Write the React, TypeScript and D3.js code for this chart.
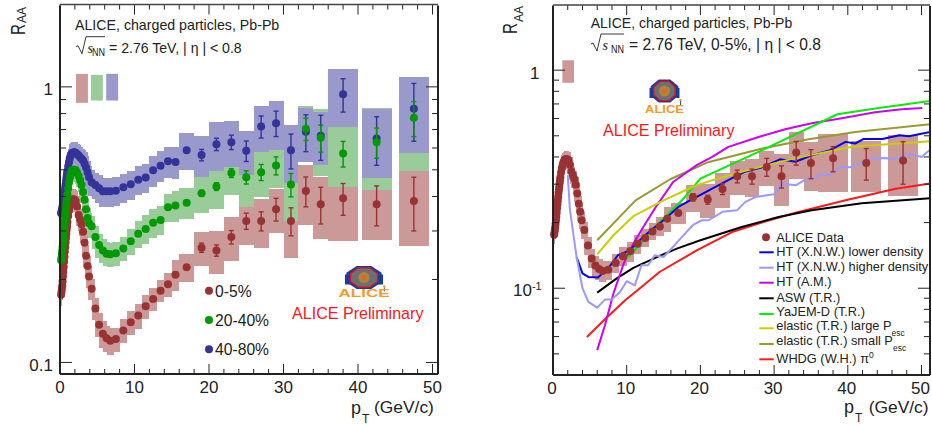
import React from "react";
import * as d3 from "d3";

const pT = [0.15,0.2,0.25,0.3,0.35,0.4,0.45,0.5,0.55,0.6,0.65,0.7,0.75,0.8,0.85,0.9,0.95,1.0,1.1,1.2,1.3,1.4,1.5,1.6,1.7,1.8,1.9,2.0,2.1,2.3,2.5,2.7,2.9,3.1,3.3,3.5,3.7,3.9,4.25,4.75,5.25,5.75,6.25,6.75,7.5,8.5,9.5,10.5,11.5,12.5,13.5,14.5,15.5,17,19,21,23,25,27,29,31,33,35,38,42.5,47.5];
const binHalf = [0.1,0.1,0.1,0.1,0.1,0.1,0.1,0.1,0.1,0.1,0.1,0.1,0.1,0.1,0.1,0.1,0.1,0.1,0.25,0.25,0.25,0.25,0.25,0.25,0.25,0.25,0.25,0.25,0.35,0.35,0.35,0.35,0.4,0.4,0.4,0.4,0.4,0.4,0.5,0.5,0.5,0.5,0.5,0.5,0.5,0.5,0.5,0.5,0.5,0.5,0.5,0.5,0.5,1,1,1,1,1,1,1,1,1,1,2,2,2];

const central = [0.176,0.18,0.185,0.19,0.197,0.205,0.213,0.222,0.232,0.242,0.252,0.262,0.273,0.283,0.293,0.303,0.313,0.323,0.34,0.355,0.367,0.376,0.383,0.388,0.39,0.39,0.39,0.388,0.385,0.368,0.343,0.33,0.317,0.298,0.272,0.244,0.224,0.205,0.185,0.157,0.137,0.127,0.1225,0.12,0.1217,0.1305,0.14,0.148,0.16,0.17,0.182,0.192,0.208,0.2215,0.261,0.255,0.285,0.326,0.326,0.36,0.326,0.419,0.375,0.394,0.375,0.385];
const midCentral = [0.235,0.24,0.247,0.255,0.263,0.272,0.282,0.292,0.303,0.315,0.327,0.338,0.35,0.362,0.373,0.385,0.396,0.407,0.428,0.449,0.466,0.48,0.49,0.497,0.5,0.5,0.5,0.5,0.498,0.488,0.475,0.458,0.44,0.415,0.389,0.36,0.334,0.32,0.312,0.285,0.267,0.255,0.248,0.247,0.249,0.259,0.275,0.293,0.305,0.321,0.329,0.366,0.371,0.38,0.411,0.435,0.487,0.47,0.49,0.518,0.442,0.704,0.653,0.573,0.63,0.772];
const peripheral = [0.348,0.352,0.357,0.362,0.368,0.375,0.383,0.391,0.4,0.41,0.42,0.431,0.441,0.452,0.463,0.474,0.485,0.495,0.515,0.533,0.548,0.56,0.568,0.574,0.577,0.578,0.578,0.578,0.577,0.57,0.563,0.555,0.548,0.54,0.526,0.51,0.49,0.47,0.451,0.44,0.429,0.418,0.418,0.418,0.42,0.432,0.443,0.46,0.469,0.498,0.517,0.537,0.534,0.589,0.566,0.619,0.63,0.586,0.718,0.738,0.589,0.687,0.665,0.94,0.649,0.832];

const sysCentral = [0.09,0.09,0.09,0.09,0.09,0.09,0.09,0.09,0.09,0.09,0.09,0.09,0.09,0.09,0.09,0.09,0.09,0.09,0.09,0.09,0.09,0.09,0.09,0.09,0.09,0.09,0.09,0.09,0.09,0.09,0.09,0.09,0.09,0.09,0.09,0.09,0.09,0.09,0.09,0.095,0.1,0.11,0.11,0.11,0.1,0.1,0.1,0.105,0.1,0.095,0.09,0.1,0.13,0.115,0.14,0.18,0.18,0.18,0.2,0.184,0.268,0.246,0.254,0.3,0.26,0.31];
const sysMid = [0.09,0.09,0.09,0.09,0.09,0.09,0.09,0.09,0.09,0.09,0.09,0.09,0.09,0.09,0.09,0.09,0.09,0.09,0.09,0.09,0.09,0.09,0.09,0.09,0.09,0.09,0.09,0.09,0.09,0.09,0.09,0.09,0.09,0.09,0.09,0.09,0.09,0.09,0.09,0.095,0.1,0.1,0.1,0.1,0.1,0.1,0.11,0.11,0.12,0.12,0.12,0.12,0.13,0.13,0.15,0.17,0.167,0.22,0.19,0.17,0.26,0.215,0.27,0.245,0.33,0.36];
const sysPeripheral = [0.09,0.09,0.09,0.09,0.09,0.09,0.09,0.09,0.09,0.09,0.09,0.09,0.09,0.09,0.09,0.09,0.09,0.09,0.09,0.09,0.09,0.09,0.09,0.09,0.09,0.09,0.09,0.09,0.09,0.09,0.09,0.09,0.09,0.09,0.1,0.1,0.1,0.1,0.11,0.11,0.12,0.12,0.12,0.12,0.12,0.12,0.12,0.12,0.12,0.13,0.13,0.13,0.13,0.15,0.17,0.2,0.19,0.18,0.19,0.2,0.237,0.22,0.22,0.237,0.28,0.31];

const errCentral = [0.01,0.012,0.016,0.022,0.026,0.034,0.038,0.052,0.057,0.052,0.062,0.085];
const errMid = [0.01,0.014,0.018,0.026,0.033,0.039,0.043,0.065,0.073,0.061,0.079,0.112];
const errPeripheral = [0.027,0.032,0.038,0.05,0.066,0.078,0.085,0.105,0.124,0.13,0.13,0.197];

const classLabels = ["0-5%", "20-40%", "40-80%"];
const normLeft = [[2.15, 3.75, 0.875, 1.115], [4.15, 5.75, 0.892, 1.105], [6.2, 7.8, 0.892, 1.115]];
const normRight = [1.27, 2.85, 0.875, 1.11];

const htLowerX = [3.2,4,4.8,6.1,7.5,8.8,10,10.9,12.25,13.6,15,17,18.6,21.6,24.3,26,28.3,30.8,32.9,35.1,37.6,39.7,41,42.1,44.7,47,48.3,51.2];
const htLowerY = [0.139,0.117,0.1127,0.112,0.1235,0.1417,0.147,0.155,0.172,0.188,0.205,0.236,0.253,0.286,0.32,0.342,0.358,0.39,0.38,0.407,0.43,0.469,0.461,0.483,0.483,0.503,0.498,0.521];
const htHigherX = [2,2.3,3.2,4,4.8,6,7.05,7.96,9.1,10,11.1,12,12.9,13.8,15,16.3,17.5,19,20.2,21.1,23,25,26.1,27.5,30,30.9,33,34.1,35.6,36.1,37.4,39,40.6,42.9,45.1,46.2,48.7,50,51.2];
const htHigherY = [0.33,0.228,0.139,0.1,0.0866,0.0815,0.0887,0.0887,0.0962,0.1077,0.103,0.1275,0.1275,0.1417,0.139,0.155,0.172,0.195,0.205,0.205,0.224,0.228,0.249,0.262,0.27,0.302,0.297,0.313,0.32,0.333,0.33,0.36,0.359,0.39,0.396,0.39,0.411,0.4,0.433];
const htAmX = [6,7.05,8.2,9.6,10.9,12.25,14.1,16.3,19.5,21.6,23.8,27.9,31.5,35.1,39.2,43.7,47.3,50.1];
const htAmY = [0.052,0.0676,0.0946,0.13,0.16,0.191,0.24,0.307,0.367,0.4,0.445,0.494,0.536,0.571,0.602,0.641,0.662,0.67];
const aswX = [6,8.6,10.9,14.1,16.8,20,25.6,30.6,35.1,41.9,51.2];
const aswY = [0.0955,0.1107,0.124,0.139,0.152,0.166,0.191,0.212,0.228,0.245,0.259];
const yajemX = [10,10.9,14.1,17.5,20,28.4,38.6,44.2,51.2];
const yajemY = [0.137,0.147,0.195,0.253,0.318,0.43,0.628,0.67,0.723];
const largeX = [6,8.2,10.9,15,19,21.6,26,32.7,40.6,51.2];
const largeY = [0.143,0.175,0.214,0.253,0.292,0.313,0.345,0.394,0.445,0.472];
const smallX = [6,11.2,15.9,20.9,28.4,34.7,41,51.2];
const smallY = [0.166,0.253,0.316,0.377,0.437,0.482,0.521,0.565];
const whdgX = [4.6,7.3,9.8,12,14.5,19.5,24.3,27.9,32.9,39.7,46.5,51.2];
const whdgY = [0.0598,0.0734,0.088,0.1014,0.119,0.149,0.181,0.198,0.222,0.253,0.286,0.302];

const curves = [
  { x: smallX, y: smallY, c: "#999933" },
  { x: whdgX, y: whdgY, c: "#ff1a1a" },
  { x: aswX, y: aswY, c: "#000000" },
  { x: htAmX, y: htAmY, c: "#cc00ee" },
  { x: yajemX, y: yajemY, c: "#00ee00" },
  { x: htLowerX, y: htLowerY, c: "#0000ee" },
  { x: htHigherX, y: htHigherY, c: "#9999ff" },
  { x: largeX, y: largeY, c: "#cccc00" },
];

const legendNames = ["HT (X.N.W.) lower density", "HT (X.N.W.) higher density", "HT (A.M.)", "ASW (T.R.)", "YaJEM-D (T.R.)"];
const legendColors = ["#0000ee", "#9999ff", "#cc00ee", "#000000", "#00ee00"];
const legendTextY = [255.7, 271, 286, 301.7, 316];
const legendLineY = [252.3, 267.7, 282.7, 298.3, 314];

const BROWN = "#993333", GREEN = "#009900", BLUE = "#333399";
const BROWN_S = "#cc9999", GREEN_S = "#99cc99", BLUE_S = "#9999cc";
const FONT = "'Liberation Sans', Arial, sans-serif";
const TXT = "#222";

type Sc = d3.ScaleContinuousNumeric<number, number>;

function Boxes({ x, y, r, sys, fill, clip }: { x: Sc; y: Sc; r: number[]; sys: number[]; fill: string; clip: string }) {
  return (
    <g clipPath={`url(#${clip})`} shapeRendering="crispEdges">
      {pT.map((p, i) => (
        <rect key={i} x={x(p - binHalf[i])} width={x(p + binHalf[i]) - x(p - binHalf[i])} y={y(r[i] * (1 + sys[i]))} height={y(r[i] * (1 - sys[i])) - y(r[i] * (1 + sys[i]))} fill={fill} />
      ))}
    </g>
  );
}

function Points({ x, y, r, err, color, rad }: { x: Sc; y: Sc; r: number[]; err: number[]; color: string; rad: number }) {
  const off = pT.length - err.length;
  return (
    <g>
      {err.map((e, j) => {
        const i = j + off;
        const X = x(pT[i]);
        return (
          <g key={j} stroke={color} strokeWidth={1.4} fill="none">
            <line x1={X} x2={X} y1={y(r[i] + e)} y2={y(r[i] - e)} />
            <line x1={X - 2.5} x2={X + 2.5} y1={y(r[i] + e)} y2={y(r[i] + e)} />
            <line x1={X - 2.5} x2={X + 2.5} y1={y(r[i] - e)} y2={y(r[i] - e)} />
          </g>
        );
      })}
      {pT.map((p, i) => (
        <circle key={i} cx={x(p)} cy={y(r[i])} r={rad} fill={color} />
      ))}
    </g>
  );
}

function Frame({ x, y, yLow, yTicks }: { x: Sc; y: Sc; yLow: number; yTicks: { v: number; major: boolean }[] }) {
  const [x0, x1] = x.range();
  const [y1, y0] = y.range();
  const xt = d3.range(0, 51, 2);
  return (
    <g stroke="#222" fill="none">
      {xt.map((t) => {
        const len = t % 10 === 0 ? 10 : 5;
        return (
          <g key={t} strokeWidth={1}>
            <line x1={x(t)} x2={x(t)} y1={y1} y2={y1 - len} />
            <line x1={x(t)} x2={x(t)} y1={y0} y2={y0 + len} />
          </g>
        );
      })}
      {yTicks.filter((t) => t.v >= yLow).map((t, i) => {
        const len = t.major ? 12 : 6;
        return (
          <g key={i} strokeWidth={1}>
            <line x1={x0} x2={x0 + len} y1={y(t.v)} y2={y(t.v)} />
            <line x1={x1} x2={x1 - len} y1={y(t.v)} y2={y(t.v)} />
          </g>
        );
      })}
      <line x1={x0} x2={x0} y1={y0 + 1} y2={y1} strokeWidth={2} />
      <line x1={x1} x2={x1} y1={y0 + 1} y2={y1} strokeWidth={2} />
      <line x1={x0} x2={x1} y1={y1} y2={y1} strokeWidth={2} />
      <line x1={x0} x2={x1} y1={y0} y2={y0} strokeWidth={1.6} stroke="#444" />
    </g>
  );
}

function Logo({ cx, cy, sx, base, tw }: { cx: number; cy: number; sx: number; base: number; tw: number }) {
  const oct = (r: number, ry: number) =>
    d3.range(8).map((i) => {
      const a = Math.PI / 8 + (i * Math.PI) / 4;
      return `${cx + r * sx * Math.cos(a)},${cy + ry * Math.sin(a)}`;
    }).join(" ");
  return (
    <g>
      <polygon points={oct(15, 12.5)} fill="#1c3c9c" />
      <rect x={cx - 15 * sx} y={cy - 3} width={4 * sx} height={10} fill="#1c3c9c" />
      <rect x={cx + 11 * sx} y={cy - 3} width={4 * sx} height={10} fill="#1c3c9c" />
      <polygon points={oct(11.5, 10.5)} fill="#6f6f70" stroke="#e01020" strokeWidth={1.3} />
      <circle cx={cx} cy={cy} r={5.5} fill="#a8883c" />
      <circle cx={cx} cy={cy} r={2.5} fill="#f06020" />
      <circle cx={cx + 16 * sx} cy={cy + 9} r={1.2} fill="#f59a2a" />
      <line x1={cx + 16 * sx} x2={cx + 16 * sx} y1={cy + 10} y2={cy + 14} stroke="#2060b0" strokeWidth={1} />
      <text x={cx} y={base} textAnchor="middle" fontFamily={FONT} fontWeight={700} fontSize={10.5} fill="#f59a2a" textLength={tw} lengthAdjust="spacingAndGlyphs">ALICE</text>
    </g>
  );
}

function Sqrt({ x, y, rest, restX, barEnd, fs }: { x: number; y: number; rest: string; restX: number; barEnd: number; fs: number }) {
  return (
    <g fontFamily={FONT} fill={TXT}>
      <path d={`M${x},${y - 6} l2,-1 l4,8 l4,-17 H${barEnd}`} fill="none" stroke={TXT} strokeWidth={0.9} />
      <text x={x + 11.5} y={y} fontFamily="'Liberation Serif', serif" fontStyle="italic" fontSize={14}>s</text>
      <text x={barEnd - 13} y={y + 3} fontSize={10} textLength={13} lengthAdjust="spacingAndGlyphs">NN</text>
      <text x={restX} y={y} fontSize={fs}>{rest}</text>
    </g>
  );
}

function RLabel({ xR, xA, y }: { xR: number; xA: number; y: number }) {
  return (
    <g fontFamily={FONT} fill={TXT}>
      <text transform={`translate(${xR},${y}) rotate(-90)`} fontSize={21} textLength={11} lengthAdjust="spacingAndGlyphs">R</text>
      <text transform={`translate(${xA},${y - 12}) rotate(-90)`} fontSize={13.5} textLength={16} lengthAdjust="spacingAndGlyphs">AA</text>
    </g>
  );
}

export default function App() {
  const xL = d3.scaleLinear().domain([0, 378 / 7.45]).range([60, 438]);
  const yL = d3.scaleLog().domain([0.0908, 1.99]).range([374, 4.5]);
  const xR = d3.scaleLinear().domain([0, 377 / 7.37]).range([553, 930]);
  const yR = d3.scaleLog().domain([0.04, 1.99]).range([375, 5]);
  const line = (x: Sc, y: Sc, a: number[], b: number[]) =>
    d3.line<number>().x((v) => x(v)).y((_, i) => y(b[i]))(a) || "";
  const yTicksL = [0.1, 0.2, 0.3, 0.4, 0.5, 0.6, 0.7, 0.8, 0.9, 1].map((v) => ({ v, major: v === 0.1 || v === 1 }));
  const yTicksR = [0.05, 0.06, 0.07, 0.08, 0.09, 0.1, 0.2, 0.3, 0.4, 0.5, 0.6, 0.7, 0.8, 0.9, 1].map((v) => ({ v, major: v === 0.1 || v === 1 }));
  const dotsL = [BROWN, GREEN, BLUE];
  const R = 4;
  return (
    <svg width={932} height={426} viewBox="0 0 932 426" style={{ position: "absolute", left: 0, top: 0, background: "#fff" }}>
      <defs>
        <clipPath id="cl"><rect x={60} y={4.5} width={378} height={369.5} /></clipPath>
        <clipPath id="cr"><rect x={553} y={5} width={377} height={370} /></clipPath>
      </defs>

      {/* left panel */}
      <Boxes x={xL} y={yL} r={central} sys={sysCentral} fill={BROWN_S} clip="cl" />
      <Boxes x={xL} y={yL} r={midCentral} sys={sysMid} fill={GREEN_S} clip="cl" />
      <Boxes x={xL} y={yL} r={peripheral} sys={sysPeripheral} fill={BLUE_S} clip="cl" />
      {normLeft.map((n, i) => (
        <rect key={i} x={xL(n[0])} width={xL(n[1]) - xL(n[0])} y={yL(n[3])} height={yL(n[2]) - yL(n[3])} fill={[BROWN_S, GREEN_S, BLUE_S][i]} />
      ))}
      <Points x={xL} y={yL} r={central} err={errCentral} color={BROWN} rad={R} />
      <Points x={xL} y={yL} r={peripheral} err={errPeripheral} color={BLUE} rad={R} />
      <Points x={xL} y={yL} r={midCentral} err={errMid} color={GREEN} rad={R} />
      <Frame x={xL} y={yL} yLow={0.1} yTicks={yTicksL} />
      <g fontFamily={FONT} fontSize={17} fill={TXT} textAnchor="middle">
        {[0, 10, 20, 30, 40, 50].map((t) => <text key={t} x={xL(t)} y={392.7}>{t}</text>)}
        <text x={53} y={95} textAnchor="end">1</text>
        <text x={53} y={371} textAnchor="end">0.1</text>
      </g>
      <RLabel xR={25} xA={25.7} y={35} />
      <g fontFamily={FONT} fill={TXT}>
        <text x={351} y={414} fontSize={18}>p</text>
        <text x={362} y={423} fontSize={12}>T</text>
        <text x={374} y={413} fontSize={17.4}>(GeV/c)</text>
      </g>
      <text x={75} y={30} fontFamily={FONT} fontSize={14.2} fill={TXT}>ALICE, charged particles, Pb-Pb</text>
      <Sqrt x={76} y={52.7} rest="= 2.76 TeV, | η | < 0.8" restX={109} barEnd={105} fs={14.1} />
      {classLabels.map((l, i) => (
        <g key={l}>
          <circle cx={209} cy={290.7 + i * 29.3} r={R} fill={dotsL[i]} />
          <text x={215} y={297 + i * 29} fontFamily={FONT} fontSize={15.7} fill={TXT}>{l}</text>
        </g>
      ))}
      <Logo cx={364} cy={277.5} sx={1.27} base={297} tw={51} />
      <text x={292} y={319} fontFamily={FONT} fontSize={16.1} fill="#f51a1a">ALICE Preliminary</text>

      {/* right panel */}
      <Boxes x={xR} y={yR} r={central} sys={sysCentral} fill={BROWN_S} clip="cr" />
      <rect x={xR(normRight[0])} width={xR(normRight[1]) - xR(normRight[0])} y={yR(normRight[3])} height={yR(normRight[2]) - yR(normRight[3])} fill={BROWN_S} />
      <g clipPath="url(#cr)" fill="none" strokeWidth={2} strokeLinejoin="round">
        {curves.map((c, i) => <path key={i} d={line(xR, yR, c.x, c.y)} stroke={c.c} />)}
      </g>
      <Points x={xR} y={yR} r={central} err={errCentral} color={BROWN} rad={R} />
      <Frame x={xR} y={yR} yLow={0.05} yTicks={yTicksR} />
      <g fontFamily={FONT} fontSize={17} fill={TXT} textAnchor="middle">
        {[0, 10, 20, 30, 40, 50].map((t) => <text key={t} x={xR(t) - 1} y={394}>{t}</text>)}
        <text x={539.5} y={79} textAnchor="end">1</text>
        <text x={513} y={296} textAnchor="start">10<tspan dy={-6} fontSize={11}>-1</tspan></text>
      </g>
      <RLabel xR={517} xA={523} y={34} />
      <g fontFamily={FONT} fill={TXT}>
        <text x={844} y={413} fontSize={18}>p</text>
        <text x={855} y={421.7} fontSize={12}>T</text>
        <text x={868.7} y={413} fontSize={17.4}>(GeV/c)</text>
      </g>
      <text x={590.7} y={28.3} fontFamily={FONT} fontSize={14} fill={TXT}>ALICE, charged particles, Pb-Pb</text>
      <Sqrt x={591} y={50} rest="= 2.76 TeV, 0-5%, | η | < 0.8" restX={629} barEnd={624} fs={15.6} />
      <Logo cx={664.5} cy={91} sx={1} base={112.7} tw={39} />
      <text x={603} y={135.5} fontFamily={FONT} fontSize={16.1} fill="#f51a1a">ALICE Preliminary</text>

      {/* right legend */}
      <g fontFamily={FONT} fontSize={12.8} fill={TXT}>
        <circle cx={766} cy={237.3} r={R} fill={BROWN} />
        <text x={776.3} y={241.7}>ALICE Data</text>
        {legendNames.map((n, i) => (
          <g key={n}>
            <line x1={759.3} x2={773.7} y1={legendLineY[i]} y2={legendLineY[i]} stroke={legendColors[i]} strokeWidth={2} />
            <text x={776.3} y={legendTextY[i]}>{n}</text>
          </g>
        ))}
        <line x1={759.3} x2={773.7} y1={328.3} y2={328.3} stroke="#cccc00" strokeWidth={2} />
        <text x={776.3} y={330}>elastic (T.R.) large P<tspan dy={5.5} fontSize={8.5}>esc</tspan></text>
        <line x1={759.3} x2={773.7} y1={344} y2={344} stroke="#999933" strokeWidth={2} />
        <text x={776.3} y={345}>elastic (T.R.) small P<tspan dy={6} fontSize={8.5}>esc</tspan></text>
        <line x1={759.3} x2={773.7} y1={359.3} y2={359.3} stroke="#ff1a1a" strokeWidth={2} />
        <text x={776.3} y={363.3}>WHDG (W.H.) π<tspan dy={-5} fontSize={8.5}>0</tspan></text>
      </g>
    </svg>
  );
}
